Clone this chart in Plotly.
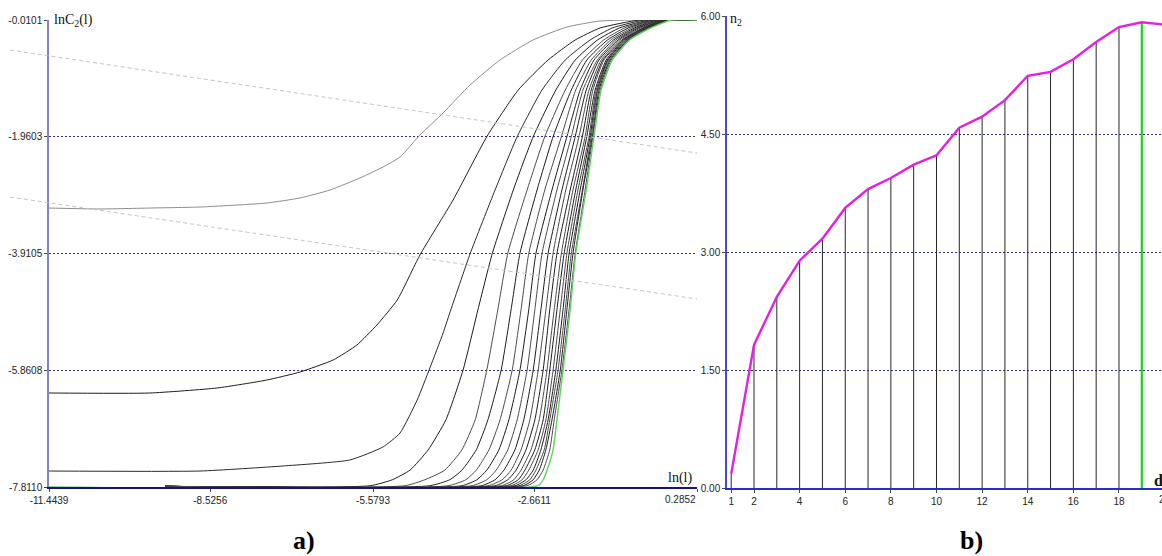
import plotly.graph_objects as go

W, H = 1162, 556

# ---------------- panel a): correlation integrals lnC2(l) vs ln(l) ----------------
ln_l_ticks = [-11.4439, -8.5256, -5.5793, -2.6611, 0.2852]
lnC_ticks = [-7.8110, -5.8608, -3.9105, -1.9603, -0.0101]

# embedding dimension 1 (light gray curve)
c1_x = [-11.444, -10.521, -9.616, -8.711, -7.498, -6.901, -6.358, -5.815, -5.362, -5.090,
        -4.728, -4.312, -3.823, -3.280, -2.683, -2.068, -1.470, -0.746, 0.285]
c1_y = [-3.151, -3.167, -3.151, -3.134, -3.067, -2.983, -2.850, -2.649, -2.449, -2.299,
        -1.931, -1.564, -1.096, -0.678, -0.344, -0.127, -0.027, -0.010, -0.010]

# embedding dimension 2
c2_x = [-11.444, -9.62, -8.40, -7.50, -6.90, -6.30, -5.87, -5.51, -5.14, -4.73, -4.13,
        -3.52, -2.95, -2.41, -1.92, -1.47, -0.75, 0.285]
c2_y = [-6.241, -6.241, -6.157, -6.024, -5.890, -5.689, -5.439, -5.105, -4.687, -3.936,
        -3.017, -1.960, -1.179, -0.678, -0.344, -0.144, -0.010, -0.010]

# embedding dimension 3
c3_x = [-11.444, -8.71, -7.21, -6.00, -5.40, -5.09, -4.78, -4.55, -4.31, -4.19, -3.82,
        -3.37, -2.97, -2.52, -2.10, -1.65, -1.25, -0.66, 0.285]
c3_y = [-7.544, -7.544, -7.460, -7.360, -7.143, -6.909, -6.358, -5.823, -5.238, -4.904,
        -3.911, -2.850, -1.960, -1.179, -0.678, -0.344, -0.144, -0.010, -0.010]

# dimensions 4..20: ln(l) where each curve crosses these lnC2 levels
levels = [-7.79, -7.69, -7.53, -7.19, -6.69, -5.86, -4.85, -3.91, -2.85, -1.96,
          -1.18, -0.68, -0.34, -0.14, -0.01]
lnl_d04 = [-5.63, -5.23, -4.91, -4.58, -4.26, -3.95, -3.68, -3.42, -3.04, -2.68, -2.27, -1.92, -1.51, -1.11, -0.57]
lnl_d05 = [-5.00, -4.64, -4.28, -3.97, -3.73, -3.52, -3.32, -3.14, -2.79, -2.47, -2.10, -1.79, -1.40, -1.02, -0.53]
lnl_d06 = [-4.55, -4.19, -3.97, -3.71, -3.50, -3.26, -3.08, -2.92, -2.61, -2.32, -1.99, -1.71, -1.33, -0.95, -0.49]
lnl_d07 = [-4.22, -3.90, -3.71, -3.48, -3.28, -3.06, -2.90, -2.76, -2.47, -2.17, -1.91, -1.63, -1.27, -0.89, -0.46]
lnl_d08 = [-3.97, -3.70, -3.52, -3.30, -3.12, -2.92, -2.76, -2.63, -2.34, -2.07, -1.83, -1.58, -1.22, -0.84, -0.42]
lnl_d09 = [-3.79, -3.52, -3.35, -3.14, -2.97, -2.79, -2.65, -2.52, -2.25, -1.99, -1.78, -1.52, -1.18, -0.80, -0.38]
lnl_d10 = [-3.62, -3.37, -3.21, -3.01, -2.85, -2.68, -2.54, -2.41, -2.16, -1.92, -1.72, -1.49, -1.14, -0.77, -0.35]
lnl_d11 = [-3.50, -3.24, -3.08, -2.90, -2.74, -2.59, -2.45, -2.32, -2.09, -1.85, -1.67, -1.45, -1.11, -0.73, -0.33]
lnl_d12 = [-3.37, -3.14, -2.99, -2.81, -2.65, -2.50, -2.38, -2.25, -2.01, -1.79, -1.63, -1.42, -1.07, -0.69, -0.31]
lnl_d13 = [-3.26, -3.03, -2.90, -2.72, -2.57, -2.43, -2.30, -2.17, -1.96, -1.74, -1.60, -1.40, -1.05, -0.67, -0.29]
lnl_d14 = [-3.17, -2.95, -2.83, -2.65, -2.50, -2.38, -2.25, -2.12, -1.91, -1.71, -1.56, -1.36, -1.04, -0.66, -0.28]
lnl_d15 = [-3.08, -2.88, -2.76, -2.59, -2.45, -2.32, -2.19, -2.07, -1.87, -1.67, -1.54, -1.34, -1.02, -0.64, -0.26]
lnl_d16 = [-3.01, -2.81, -2.68, -2.54, -2.41, -2.27, -2.14, -2.03, -1.83, -1.65, -1.52, -1.33, -1.00, -0.62, -0.24]
lnl_d17 = [-2.94, -2.74, -2.63, -2.48, -2.38, -2.23, -2.10, -1.99, -1.79, -1.63, -1.51, -1.31, -0.98, -0.60, -0.22]
lnl_d18 = [-2.86, -2.68, -2.57, -2.45, -2.34, -2.19, -2.07, -1.96, -1.78, -1.61, -1.49, -1.29, -0.96, -0.58, -0.22]
lnl_d19 = [-2.59, -2.50, -2.43, -2.32, -2.25, -2.14, -2.01, -1.91, -1.72, -1.58, -1.45, -1.25, -0.93, -0.55, -0.18]
lnl_d20 = [-2.79, -2.61, -2.50, -2.38, -2.30, -2.16, -2.03, -1.92, -1.74, -1.60, -1.47, -1.27, -0.95, -0.57, -0.20]

floor_start = -9.34      # where the higher-dimension curves begin on the floor
floor_level = -7.80

# linear fits (light dashed lines), extended past the left axis
fit_x = [-12.15, 0.2852]
fit_a_y = [-0.511, -2.232]
fit_b_y = [-2.967, -4.670]

# ---------------- panel b): n2 vs embedding dimension d ----------------
dims = list(range(1, 21))
n2 = [0.18, 1.82, 2.43, 2.89, 3.17, 3.56, 3.80, 3.94, 4.11, 4.23,
      4.58, 4.72, 4.93, 5.24, 5.29, 5.45, 5.67, 5.86, 5.92, 5.89]
d_selected = 19
d_ticks = [1, 2, 4, 6, 8, 10, 12, 14, 16, 18, 20]
n2_ticks = [0.0, 1.5, 3.0, 4.5, 6.0]

# ---------------- layout geometry ----------------
xdom1 = [49 / W, 697 / W]
ydom1 = [1 - 487 / H, 1 - 20 / H]
xdom2 = [727 / W, 1.0]
ydom2 = [1 - 488 / H, 1 - 16 / H]
xr1 = [ln_l_ticks[0], ln_l_ticks[-1]]
yr1 = [lnC_ticks[0], lnC_ticks[-1]]
xr2 = [0.816, 19.886]
yr2 = [n2_ticks[0], n2_ticks[-1]]


def to_paper(v, rng, dom):
    return dom[0] + (v - rng[0]) / (rng[1] - rng[0]) * (dom[1] - dom[0])


GRID = "#2f2f8c"
TICKFONT = dict(family="Liberation Sans, Arial, sans-serif", size=10, color="#222222")
SERIF = "Liberation Serif, Times New Roman, serif"
SMOOTH = dict(shape="spline", smoothing=0.5)

fig = go.Figure()

# curves of panel a)
fig.add_trace(go.Scatter(x=c1_x, y=c1_y, mode="lines",
                         line=dict(color="#8c8c8c", width=1, **SMOOTH),
                         xaxis="x", yaxis="y", hoverinfo="skip"))
fig.add_trace(go.Scatter(x=c2_x, y=c2_y, mode="lines",
                         line=dict(color="#1e1e1e", width=1, **SMOOTH),
                         xaxis="x", yaxis="y", hoverinfo="skip"))
fig.add_trace(go.Scatter(x=c3_x, y=c3_y, mode="lines",
                         line=dict(color="#2a2a2a", width=1, **SMOOTH),
                         xaxis="x", yaxis="y", hoverinfo="skip"))

family = [lnl_d04, lnl_d05, lnl_d06, lnl_d07, lnl_d08, lnl_d09, lnl_d10, lnl_d11,
          lnl_d12, lnl_d13, lnl_d14, lnl_d15, lnl_d16, lnl_d17, lnl_d18, lnl_d20]
for i, xs in enumerate(family):
    fig.add_trace(go.Scatter(
        x=[floor_start] + xs + [ln_l_ticks[-1]],
        y=[floor_level] + levels + [lnC_ticks[-1]],
        mode="lines",
        line=dict(color="#1a1a1a" if i % 2 == 0 else "#4a4a4a", width=1, **SMOOTH),
        xaxis="x", yaxis="y", hoverinfo="skip"))

# selected dimension drawn in green on top
fig.add_trace(go.Scatter(
    x=[ln_l_ticks[0]] + lnl_d19 + [ln_l_ticks[-1]],
    y=[lnC_ticks[0]] + levels + [lnC_ticks[-1]],
    mode="lines", line=dict(color="#5fd25f", width=1.4, **SMOOTH),
    xaxis="x", yaxis="y", hoverinfo="skip"))

# stems of panel b)
stem_x, stem_y = [], []
for d, v in zip(dims, n2):
    if d < d_selected:
        stem_x += [d, d, None]
        stem_y += [0, v, None]
fig.add_trace(go.Scatter(x=stem_x, y=stem_y, mode="lines", line=dict(color="#262626", width=1),
                         xaxis="x2", yaxis="y2", hoverinfo="skip"))
sel = dims.index(d_selected)
fig.add_trace(go.Scatter(x=[d_selected, d_selected], y=[0, n2[sel]], mode="lines",
                         line=dict(color="#16d416", width=2.2),
                         xaxis="x2", yaxis="y2", hoverinfo="skip"))
fig.add_trace(go.Scatter(x=dims, y=n2, mode="lines", line=dict(color="#e41ee4", width=2.4),
                         xaxis="x2", yaxis="y2", hoverinfo="skip"))

# dashed fit lines (paper coordinates so they run past the axis)
shapes = []
for fy in (fit_a_y, fit_b_y):
    shapes.append(dict(type="line", xref="paper", yref="paper",
                       x0=to_paper(fit_x[0], xr1, xdom1), y0=to_paper(fy[0], yr1, ydom1),
                       x1=to_paper(fit_x[1], xr1, xdom1), y1=to_paper(fy[1], yr1, ydom1),
                       line=dict(color="#c4c4c4", width=1, dash="4px,3px"), layer="above"))

label_y = 1 - 499 / H
annotations = [
    dict(text="0.2852", x=to_paper(ln_l_ticks[-1], xr1, xdom1) + 1 / W, y=label_y,
         xref="paper", yref="paper", xanchor="right", yanchor="middle", showarrow=False,
         font=TICKFONT),
    dict(text="20", x=to_paper(20, xr2, xdom2), y=label_y,
         xref="paper", yref="paper", xanchor="center", yanchor="middle", showarrow=False,
         font=TICKFONT),
    dict(text="lnC<sub>2</sub>(l)", x=53 / W, y=1 - 21 / H, xref="paper", yref="paper",
         xanchor="left", yanchor="middle", showarrow=False, bgcolor="white", borderpad=0,
         font=dict(family=SERIF, size=14, color="#111111")),
    dict(text="ln(l)", x=694 / W, y=1 - 478 / H, xref="paper", yref="paper",
         xanchor="right", yanchor="middle", showarrow=False,
         font=dict(family=SERIF, size=14, color="#111111")),
    dict(text="n<sub>2</sub>", x=729 / W, y=1 - 19 / H, xref="paper", yref="paper",
         xanchor="left", yanchor="middle", showarrow=False, bgcolor="white", borderpad=0,
         font=dict(family=SERIF, size=14, color="#111111")),
    dict(text="<b>d</b>", x=1152 / W, y=1 - 480 / H, xref="paper", yref="paper",
         xanchor="left", yanchor="middle", showarrow=False,
         font=dict(family=SERIF, size=16, color="#111111")),
    dict(text="<b>a)</b>", x=304 / W, y=1 - 540 / H, xref="paper", yref="paper",
         xanchor="center", yanchor="middle", showarrow=False,
         font=dict(family=SERIF, size=26, color="#000000")),
    dict(text="<b>b)</b>", x=971 / W, y=1 - 540 / H, xref="paper", yref="paper",
         xanchor="center", yanchor="middle", showarrow=False,
         font=dict(family=SERIF, size=26, color="#000000")),
]

common_y = dict(showgrid=True, gridcolor=GRID, gridwidth=1, griddash="2px,2px",
                zeroline=False, ticks="outside", ticklen=3, tickcolor="#444466",
                tickfont=TICKFONT, showline=True, automargin=False)
common_x = dict(showgrid=False, zeroline=False, showline=True, linewidth=1.5,
                ticks="outside", ticklen=3, tickcolor="#444466", tickfont=TICKFONT,
                automargin=False)

fig.update_layout(
    width=W, height=H,
    margin=dict(l=0, r=0, t=0, b=0, pad=0, autoexpand=False),
    paper_bgcolor="white", plot_bgcolor="white",
    showlegend=False,
    xaxis=dict(domain=xdom1, range=xr1, anchor="y", tickvals=ln_l_ticks,
               ticktext=["-11.4439", "-8.5256", "-5.5793", "-2.6611", ""],
               linecolor="#14147a", **common_x),
    yaxis=dict(domain=ydom1, range=yr1, anchor="x", tickvals=lnC_ticks,
               ticktext=["-7.8110", "-5.8608", "-3.9105", "-1.9603", "-0.0101"],
               linecolor="#8282c4", linewidth=1.5, **common_y),
    xaxis2=dict(domain=xdom2, range=xr2, anchor="y2", tickvals=d_ticks,
                linecolor="#2a2ad2", **common_x),
    yaxis2=dict(domain=ydom2, range=yr2, anchor="x2", tickvals=n2_ticks,
                ticktext=["0.00", "1.50", "3.00", "4.50", "6.00"],
                linecolor="#4a4ad0", linewidth=1.5, **common_y),
    shapes=shapes,
    annotations=annotations,
)

fig.write_html("out.html")
